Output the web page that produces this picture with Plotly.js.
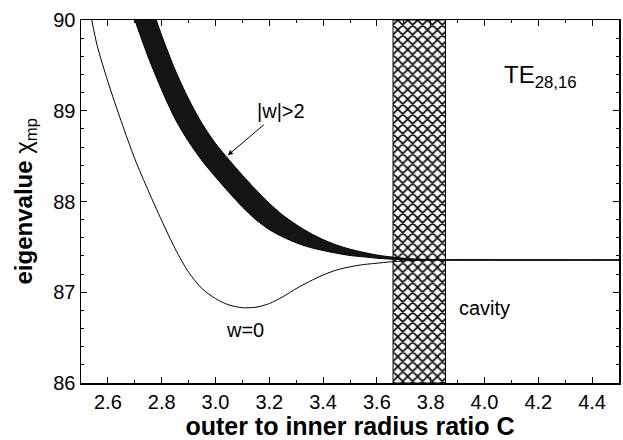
<!DOCTYPE html>
<html>
<head>
<meta charset="utf-8">
<script src="https://cdn.plot.ly/plotly-3.0.1.min.js"></script>
<style>
  html, body { margin: 0; padding: 0; background: #fff; }
  #chart { width: 623px; height: 440px; }
</style>
</head>
<body>
<div id="chart"></div>
<script>
// Eigenvalue curve for w = 0 (thin line)
const cW0 = [2.54, 2.56, 2.60, 2.65, 2.70, 2.75, 2.80, 2.85, 2.90, 2.95, 3.00, 3.05, 3.10, 3.15,
             3.20, 3.25, 3.30, 3.35, 3.40, 3.45, 3.50, 3.55, 3.60, 3.65, 3.70, 3.80, 4.50];
const w0 = [90.0, 89.72, 89.32, 88.88, 88.47, 88.12, 87.79, 87.48, 87.22, 87.04, 86.93, 86.86, 86.83, 86.835,
            86.875, 86.95, 87.04, 87.12, 87.19, 87.245, 87.28, 87.305, 87.32, 87.335, 87.345, 87.355, 87.355];

// Lower edge of the |w|>2 band
const cBandLow = [2.70, 2.75, 2.80, 2.85, 2.90, 2.95, 3.00, 3.05, 3.10, 3.15, 3.20, 3.25, 3.30, 3.35,
                  3.40, 3.45, 3.50, 3.55, 3.60, 3.65, 3.70, 3.80, 4.50];
const bandLow = [90.0, 89.59, 89.23, 88.91, 88.66, 88.45, 88.27, 88.10, 87.94, 87.80, 87.69, 87.61, 87.545, 87.495,
                 87.46, 87.43, 87.405, 87.39, 87.375, 87.365, 87.358, 87.355, 87.355];

// Upper edge of the |w|>2 band
const cBandHigh = [2.78, 2.80, 2.85, 2.90, 2.95, 3.00, 3.05, 3.10, 3.15, 3.20, 3.25, 3.30, 3.35, 3.40,
                   3.45, 3.50, 3.55, 3.60, 3.65, 3.70, 3.75, 3.80, 3.85, 4.50];
const bandHigh = [90.0, 89.83, 89.45, 89.13, 88.86, 88.64, 88.46, 88.29, 88.13, 87.98, 87.85, 87.745, 87.655, 87.58,
                  87.52, 87.475, 87.44, 87.41, 87.39, 87.375, 87.365, 87.36, 87.357, 87.355];

// Cavity interval on the C axis
const cavity = [3.66, 3.855];

// Axis ranges and ticks
const xRange = [2.5, 4.5];
const yRange = [86, 90];
const xTickVals = [2.6, 2.8, 3.0, 3.2, 3.4, 3.6, 3.8, 4.0, 4.2, 4.4];
const xTickText = ['2.6', '2.8', '3.0', '3.2', '3.4', '3.6', '3.8', '4.0', '4.2', '4.4'];
const yTickVals = [86, 87, 88, 89, 90];
const yTickText = ['86', '87', '88', '89', '90'];

const FONT = 'Liberation Sans, Arial, Helvetica, sans-serif';

const traces = [
  {
    // hatched cavity region
    type: 'bar',
    x: [(cavity[0] + cavity[1]) / 2],
    width: [cavity[1] - cavity[0]],
    base: [yRange[0]],
    y: [yRange[1] - yRange[0]],
    marker: {
      color: 'white',
      line: { color: 'black', width: 1 },
      pattern: { shape: 'x', size: 7, solidity: 0.4, fgcolor: 'black', bgcolor: 'white', fillmode: 'replace' }
    },
    hoverinfo: 'skip'
  },
  {
    type: 'scatter', mode: 'lines',
    x: cBandLow, y: bandLow,
    line: { color: 'black', width: 1, shape: 'spline', smoothing: 0.8 },
    hoverinfo: 'skip'
  },
  {
    type: 'scatter', mode: 'lines',
    x: cBandHigh, y: bandHigh,
    line: { color: 'black', width: 1, shape: 'spline', smoothing: 0.8 },
    fill: 'tonexty', fillcolor: '#141414',
    hoverinfo: 'skip'
  },
  {
    type: 'scatter', mode: 'lines',
    x: cW0, y: w0,
    line: { color: 'black', width: 1, shape: 'spline', smoothing: 0.8 },
    hoverinfo: 'skip'
  }
];

const axisCommon = {
  showline: true, linecolor: 'black', linewidth: 1.5,
  mirror: 'ticks', ticks: 'inside', ticklen: 6, tickwidth: 1, tickcolor: 'black',
  showgrid: false, zeroline: false, fixedrange: true,
  tickfont: { family: FONT, size: 20, color: 'black' }
};

const layout = {
  width: 623, height: 440,
  margin: { l: 81, r: 4, t: 20, b: 57 },
  paper_bgcolor: 'white', plot_bgcolor: 'white',
  showlegend: false,
  hovermode: false,
  bargap: 0,
  xaxis: Object.assign({}, axisCommon, {
    range: xRange,
    tickmode: 'array', tickvals: xTickVals, ticktext: xTickText,
    minor: { dtick: 0.1, ticks: 'inside', ticklen: 3, tickcolor: 'black', tickwidth: 1 },
    title: { text: 'outer to inner radius ratio C', font: { family: FONT, size: 25, color: 'black', weight: 'bold' }, standoff: 3 }
  }),
  yaxis: Object.assign({}, axisCommon, {
    range: yRange,
    tickmode: 'array', tickvals: yTickVals, ticktext: yTickText,
    minor: { dtick: 0.2, ticks: 'inside', ticklen: 3, tickcolor: 'black', tickwidth: 1 }
  }),
  annotations: [
    {
      // y axis title, placed beside the tick labels
      x: 0, y: 0.5, xref: 'paper', yref: 'paper',
      xanchor: 'center', yanchor: 'middle', xshift: -56,
      textangle: -90,
      text: '<b>eigenvalue</b> χ<sub>mp</sub>', showarrow: false,
      font: { family: FONT, size: 24, color: 'black' }
    },
    {
      x: 4.21, y: 89.38, xref: 'x', yref: 'y',
      text: 'TE<sub>28,16</sub>', showarrow: false,
      font: { family: FONT, size: 24, color: 'black' }
    },
    {
      x: 3.244, y: 89.0, xref: 'x', yref: 'y',
      text: '|w|>2', showarrow: false,
      font: { family: FONT, size: 20, color: 'black' }
    },
    {
      x: 3.046, y: 88.51, xref: 'x', yref: 'y',
      text: ' ', showarrow: true, ax: 39, ay: -33,
      arrowhead: 2, arrowsize: 1, arrowwidth: 1, arrowcolor: 'black', standoff: 0
    },
    {
      x: 3.11, y: 86.58, xref: 'x', yref: 'y',
      text: 'w=0', showarrow: false,
      font: { family: FONT, size: 20, color: 'black' }
    },
    {
      x: 4.0, y: 86.83, xref: 'x', yref: 'y',
      text: 'cavity', showarrow: false,
      font: { family: FONT, size: 20, color: 'black' }
    }
  ]
};

Plotly.newPlot('chart', traces, layout, { displayModeBar: false, staticPlot: true });
</script>
</body>
</html>
